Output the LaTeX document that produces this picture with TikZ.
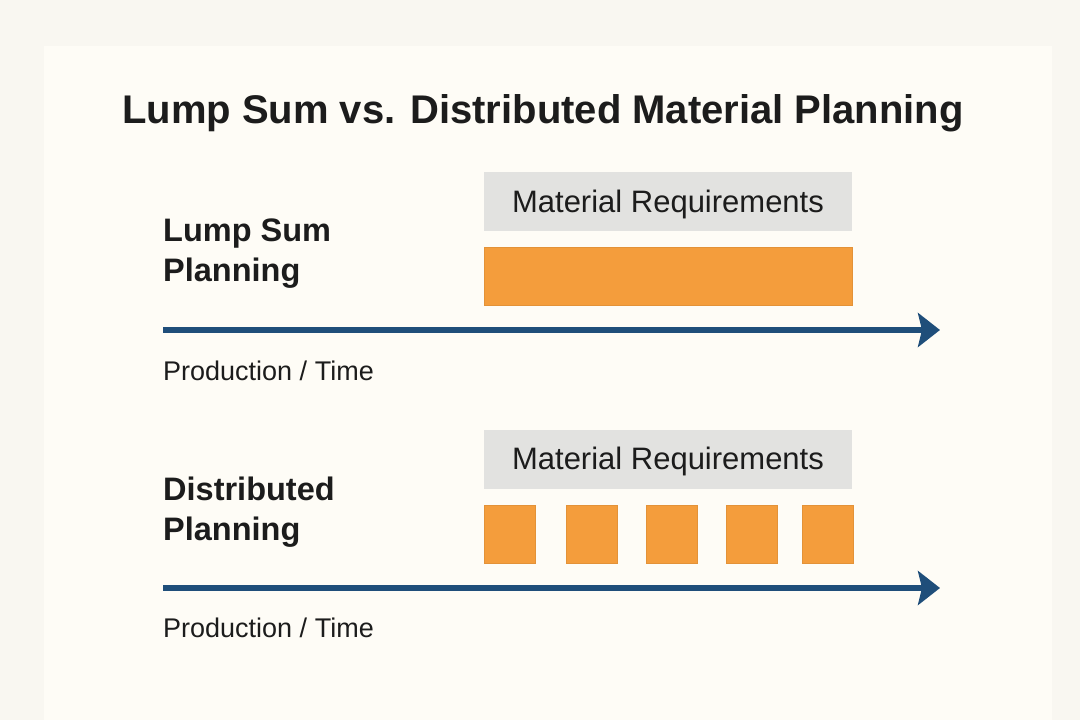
\documentclass[tikz,border=0pt]{standalone}
\usepackage{fontspec}
\setmainfont{Liberation Sans}
\usepackage{xcolor}
\usetikzlibrary{arrows.meta}
\definecolor{pagebg}{HTML}{F9F7F1}
\definecolor{cardbg}{HTML}{FEFCF6}
\definecolor{reqgray}{HTML}{E2E2E0}
\definecolor{matorange}{HTML}{F49D3C}
\definecolor{timeblue}{HTML}{1F4E7A}
\definecolor{inkdark}{HTML}{1C1C1C}
\tikzset{x=1pt, y=-1pt,
 reqbox/.style={fill=reqgray, minimum width=368pt, minimum height=59pt,
  text=inkdark, font=\fontsize{31}{36}\selectfont, text height=21pt, text depth=0pt},
 matbar/.style={fill=matorange, draw=matorange!93!black, line width=0.5pt,
  minimum width=368pt, minimum height=58pt},
 chunk/.style={fill=matorange, draw=matorange!93!black, line width=0.5pt,
  minimum width=51pt, minimum height=58pt},
 rowlabel/.style={anchor=west, align=left, text=inkdark, inner sep=0pt,
  font=\bfseries\fontsize{32.5}{40}\selectfont},
 axislabel/.style={anchor=base west, inner sep=0pt, text=inkdark,
  font=\fontsize{27}{30}\selectfont},
 timeline/.style={draw=timeblue, line width=6.5pt,
  -{Stealth[length=22pt, width=34pt, inset=4pt]}},
 }

\begin{document}
\begin{tikzpicture}
        \useasboundingbox (0,0) rectangle (1080,720);
        \fill[pagebg] (0,0) rectangle (1080,720);
        \fill[cardbg] (44,46) rectangle (1052,720);

        % title
        \node[anchor=base, inner sep=0pt, text=inkdark,
              font=\bfseries\fontsize{40}{48}\selectfont] (title) at (543,123)
              {Lump Sum vs. Distributed Material Planning};

        % lump sum row
        \node[rowlabel] (lumplbl) at (163,254) {Lump Sum\\Planning};
        \node[reqbox] (lumpreq) at (668,201.5) {Material Requirements};
        \node[matbar] (lumpbar) at (668,276) {};
        \coordinate (lumpstart) at (163,330);
        \coordinate (lumpend) at (940,330);
        \draw[timeline] (lumpstart) -- (lumpend);
        \node[axislabel] (lumpaxis) at (163,380) {Production / Time};

        % distributed row
        \node[rowlabel] (distlbl) at (163,512) {Distributed\\Planning};
        \node[reqbox] (distreq) at (668,459) {Material Requirements};
        \foreach \cx [count=\i] in {510,591.5,672,751.5,827.5}
            \node[chunk] (chunk\i) at (\cx,534) {};
        \coordinate (diststart) at (163,588);
        \coordinate (distend) at (940,588);
        \draw[timeline] (diststart) -- (distend);
        \node[axislabel] (distaxis) at (163,637) {Production / Time};
    \end{tikzpicture}
\end{document}
